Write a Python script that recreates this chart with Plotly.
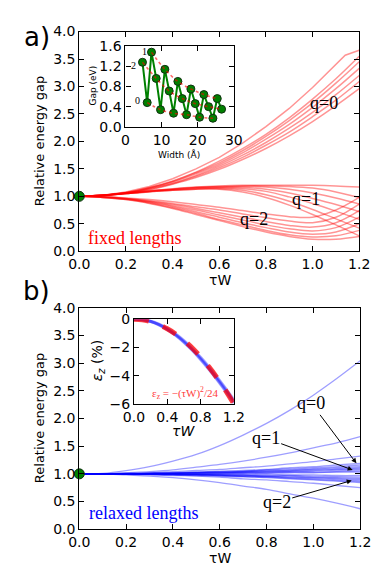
import plotly.graph_objects as go

W, H = 382, 573

# reduced strain tW, shared by the curves of both panels
tw = [0.0, 0.1, 0.2, 0.3, 0.4, 0.5, 0.6, 0.7, 0.8, 0.9, 1.0, 1.1, 1.2]

# a) fixed lengths, family q=0 (rising)
fixed_q0 = [
    [1, 1.01, 1.05, 1.12, 1.22, 1.34, 1.49, 1.67, 1.87, 2.10, 2.36, 2.65, 2.96],
    [1, 1.01, 1.06, 1.13, 1.23, 1.36, 1.52, 1.71, 1.93, 2.17, 2.45, 2.75, 3.09],
    [1, 1.02, 1.06, 1.14, 1.24, 1.38, 1.55, 1.75, 1.98, 2.24, 2.53, 2.85, 3.20],
    [1, 1.02, 1.06, 1.15, 1.26, 1.41, 1.58, 1.79, 2.04, 2.31, 2.62, 2.96, 3.33],
    [1, 1.02, 1.07, 1.15, 1.27, 1.43, 1.61, 1.83, 2.09, 2.38, 2.70, 3.06, 3.45],
    [1, 1.02, 1.07, 1.16, 1.28, 1.44, 1.64, 1.87, 2.13, 2.43, 2.77, 3.14, 3.55],
]
kink_tw = [0.0, 0.1, 0.2, 0.3, 0.4, 0.5, 0.6, 0.7, 0.8, 0.9, 1.0, 1.1, 1.14, 1.2]
kink_q0 = [1, 1.02, 1.08, 1.18, 1.32, 1.50, 1.71, 1.97, 2.27, 2.60, 2.98, 3.40, 3.57, 3.66]

# a) family q=1 (flat, then falling)
fixed_q1 = [
    [1, 1.02, 1.06, 1.10, 1.14, 1.17, 1.19, 1.20, 1.20, 1.20, 1.20, 1.19, 1.17],
    [1, 1.02, 1.06, 1.10, 1.13, 1.16, 1.18, 1.19, 1.19, 1.18, 1.15, 1.08, 0.98],
    [1, 1.02, 1.05, 1.09, 1.13, 1.16, 1.17, 1.18, 1.17, 1.13, 1.06, 0.97, 0.86],
    [1, 1.02, 1.05, 1.09, 1.12, 1.15, 1.16, 1.16, 1.13, 1.06, 0.96, 0.85, 0.72],
    [1, 1.02, 1.05, 1.09, 1.12, 1.14, 1.15, 1.14, 1.09, 0.99, 0.87, 0.73, 0.58],
    [1, 1.02, 1.05, 1.08, 1.11, 1.13, 1.14, 1.11, 1.03, 0.91, 0.76, 0.59, 0.42],
    [1, 1.02, 1.05, 1.08, 1.11, 1.13, 1.13, 1.08, 0.98, 0.84, 0.67, 0.48, 0.28],
]

# a) family q=2 (falling, then rising)
fixed_q2 = [
    [1, 0.99, 0.97, 0.94, 0.90, 0.85, 0.80, 0.74, 0.68, 0.63, 0.62, 0.75, 0.98],
    [1, 0.99, 0.96, 0.92, 0.87, 0.81, 0.75, 0.68, 0.61, 0.55, 0.52, 0.62, 0.86],
    [1, 0.99, 0.96, 0.91, 0.85, 0.78, 0.70, 0.62, 0.54, 0.47, 0.44, 0.52, 0.74],
    [1, 0.99, 0.95, 0.90, 0.83, 0.75, 0.66, 0.57, 0.48, 0.41, 0.37, 0.43, 0.62],
    [1, 0.98, 0.95, 0.89, 0.81, 0.72, 0.62, 0.52, 0.43, 0.35, 0.31, 0.35, 0.50],
    [1, 0.98, 0.94, 0.88, 0.79, 0.69, 0.58, 0.48, 0.38, 0.30, 0.26, 0.28, 0.38],
    [1, 0.98, 0.94, 0.87, 0.78, 0.67, 0.56, 0.45, 0.35, 0.27, 0.22, 0.22, 0.27],
]

# b) relaxed lengths
relaxed = [
    [1, 1.01, 1.06, 1.13, 1.23, 1.35, 1.51, 1.70, 1.91, 2.15, 2.42, 2.72, 3.04],
    [1, 1.00, 1.02, 1.04, 1.07, 1.12, 1.17, 1.23, 1.30, 1.38, 1.47, 1.56, 1.67],
    [1, 1.00, 1.01, 1.02, 1.04, 1.06, 1.08, 1.11, 1.14, 1.18, 1.22, 1.27, 1.32],
    [1, 1.00, 1.01, 1.01, 1.02, 1.03, 1.05, 1.06, 1.08, 1.11, 1.13, 1.16, 1.19],
    [1, 1.00, 1.00, 1.01, 1.02, 1.03, 1.04, 1.05, 1.07, 1.09, 1.11, 1.13, 1.16],
    [1, 1.00, 1.00, 1.01, 1.01, 1.02, 1.03, 1.04, 1.06, 1.07, 1.09, 1.11, 1.13],
    [1, 1.00, 1.00, 1.01, 1.01, 1.02, 1.03, 1.04, 1.05, 1.06, 1.08, 1.09, 1.11],
    [1, 1.00, 1.00, 1.01, 1.01, 1.02, 1.02, 1.03, 1.04, 1.05, 1.06, 1.08, 1.09],
    [1, 1.00, 1.00, 1.00, 1.01, 1.01, 1.02, 1.02, 1.03, 1.04, 1.05, 1.06, 1.07],
    [1, 1.00, 1.00, 1.00, 1.01, 1.01, 1.01, 1.02, 1.02, 1.03, 1.03, 1.04, 1.05],
    [1, 1.00, 1.00, 1.00, 1.00, 1.00, 1.01, 1.01, 1.01, 1.02, 1.02, 1.03, 1.03],
    [1, 1.00, 1.00, 1.00, 1.00, 0.99, 0.99, 0.99, 0.99, 0.98, 0.98, 0.97, 0.97],
    [1, 1.00, 1.00, 1.00, 0.99, 0.99, 0.98, 0.98, 0.97, 0.97, 0.96, 0.95, 0.94],
    [1, 1.00, 1.00, 0.99, 0.99, 0.99, 0.98, 0.97, 0.96, 0.96, 0.94, 0.93, 0.92],
    [1, 1.00, 1.00, 0.99, 0.99, 0.98, 0.98, 0.97, 0.96, 0.94, 0.93, 0.92, 0.90],
    [1, 1.00, 1.00, 0.99, 0.99, 0.98, 0.97, 0.96, 0.95, 0.93, 0.92, 0.90, 0.88],
    [1, 1.00, 1.00, 0.99, 0.98, 0.98, 0.97, 0.95, 0.94, 0.92, 0.90, 0.88, 0.86],
    [1, 1.00, 0.99, 0.99, 0.98, 0.97, 0.96, 0.95, 0.93, 0.91, 0.89, 0.87, 0.84],
    [1, 1.00, 0.99, 0.98, 0.97, 0.96, 0.94, 0.91, 0.89, 0.86, 0.83, 0.79, 0.75],
    [1, 1.00, 0.98, 0.96, 0.93, 0.89, 0.84, 0.78, 0.72, 0.64, 0.56, 0.47, 0.37],
]

# inset a): gap vs ribbon width
width_A = [4.7, 6.0, 7.2, 8.5, 9.7, 10.9, 12.1, 13.3, 14.5, 15.7,
           16.9, 18.1, 19.3, 20.5, 21.7, 23.0, 24.2, 25.4, 26.6]
gap_eV = [1.28, 0.48, 1.48, 0.96, 0.34, 1.14, 0.71, 0.27, 0.90, 0.56,
          0.24, 0.75, 0.46, 0.19, 0.64, 0.40, 0.17, 0.56, 0.35]
family_idx = {"2": [0, 3, 6, 9, 12, 15, 18], "0": [1, 4, 7, 10, 13, 16], "1": [2, 5, 8, 11, 14, 17]}

# inset b): strain
strain_blue = [
    [0, -0.03, -0.15, -0.38, -0.70, -1.10, -1.58, -2.14, -2.78, -3.47, -4.22, -5.00, -5.85],
    [0, -0.03, -0.14, -0.35, -0.66, -1.05, -1.52, -2.07, -2.70, -3.38, -4.12, -4.90, -5.72],
    [0, -0.04, -0.16, -0.40, -0.73, -1.14, -1.63, -2.20, -2.85, -3.55, -4.30, -5.10, -5.95],
]
strain_fit = [0, -0.04, -0.17, -0.38, -0.67, -1.04, -1.50, -2.04, -2.67, -3.38, -4.17, -5.04, -6.00]


def fx(p):
    return p / W


def fy(p):
    return 1 - p / H


fig = go.Figure()

red = "rgba(255,0,0,0.42)"
for ys in fixed_q0 + fixed_q1 + fixed_q2:
    fig.add_trace(go.Scatter(x=tw, y=ys, mode="lines", line=dict(color=red, width=1.5, shape="spline"),
                             xaxis="x", yaxis="y", showlegend=False, hoverinfo="skip"))
fig.add_trace(go.Scatter(x=kink_tw, y=kink_q0, mode="lines", line=dict(color=red, width=1.5),
                         xaxis="x", yaxis="y", showlegend=False, hoverinfo="skip"))
fig.add_trace(go.Scatter(x=[0], y=[1], mode="markers", cliponaxis=False,
                         marker=dict(color="green", size=10, line=dict(color="#103010", width=1)),
                         xaxis="x", yaxis="y", showlegend=False))

# inset a
fig.add_trace(go.Scatter(x=width_A, y=gap_eV, mode="lines+markers",
                         line=dict(color="green", width=2),
                         marker=dict(color="green", size=8, line=dict(color="#103010", width=1)),
                         xaxis="x2", yaxis="y2", showlegend=False))
for fam, idx in family_idx.items():
    fig.add_trace(go.Scatter(x=[width_A[i] for i in idx], y=[gap_eV[i] for i in idx], mode="lines",
                             line=dict(color="rgba(255,0,0,0.6)", width=1.6, dash="dot", shape="spline"),
                             xaxis="x2", yaxis="y2", showlegend=False))

blue = "rgba(0,0,255,0.38)"
for ys in relaxed:
    fig.add_trace(go.Scatter(x=tw, y=ys, mode="lines", line=dict(color=blue, width=1.3, shape="spline"),
                             xaxis="x3", yaxis="y3", showlegend=False, hoverinfo="skip"))
fig.add_trace(go.Scatter(x=[0], y=[1], mode="markers", cliponaxis=False,
                         marker=dict(color="green", size=10, line=dict(color="#103010", width=1)),
                         xaxis="x3", yaxis="y3", showlegend=False))

# inset b
for ys in strain_blue:
    fig.add_trace(go.Scatter(x=tw, y=ys, mode="lines", line=dict(color="rgba(0,0,255,0.35)", width=3, shape="spline"),
                             xaxis="x4", yaxis="y4", showlegend=False))
fig.add_trace(go.Scatter(x=tw, y=strain_fit, mode="lines",
                         line=dict(color="rgba(255,0,0,0.75)", width=5, dash="dash", shape="spline"),
                         xaxis="x4", yaxis="y4", showlegend=False))

tickfont = dict(family="DejaVu Sans", size=14, color="black")
common = dict(ticks="inside", ticklen=5, tickwidth=1, tickcolor="black", showline=True, linecolor="black",
              linewidth=1.2, mirror="ticks", showgrid=False, zeroline=False, tickfont=tickfont)

tw_ticks = [0.0, 0.2, 0.4, 0.6, 0.8, 1.0, 1.2]
gap_ticks = [0.0, 0.5, 1.0, 1.5, 2.0, 2.5, 3.0, 3.5, 4.0]

fig.update_layout(
    width=W, height=H, margin=dict(l=0, r=0, t=0, b=0),
    paper_bgcolor="white", plot_bgcolor="white",
    xaxis=dict(domain=[fx(64), fx(361)], anchor="y", range=[0, 1.2], tickmode="array",
               tickvals=tw_ticks, ticktext=["%.1f" % v for v in tw_ticks], **common),
    yaxis=dict(domain=[fy(242), fy(16)], anchor="x", range=[0, 4], tickmode="array",
               tickvals=gap_ticks, ticktext=["%.1f" % v for v in gap_ticks], **common),
    xaxis2=dict(domain=[fx(113), fx(228)], anchor="y2", range=[0, 30], tickmode="array",
                tickvals=[0, 10, 20, 30], ticktext=["0", "10", "20", "30"], **common),
    yaxis2=dict(domain=[fy(114), fy(31)], anchor="x2", range=[0, 1.6], tickmode="array",
                tickvals=[0, 0.4, 0.8, 1.2, 1.6], ticktext=["0.0", "0.4", "0.8", "1.2", "1.6"], **common),
    xaxis3=dict(domain=[fx(64), fx(362)], anchor="y3", range=[0, 1.2], tickmode="array",
                tickvals=tw_ticks, ticktext=["%.1f" % v for v in tw_ticks], **common),
    yaxis3=dict(domain=[fy(528), fy(300)], anchor="x3", range=[0, 4], tickmode="array",
                tickvals=gap_ticks, ticktext=["%.1f" % v for v in gap_ticks], **common),
    xaxis4=dict(domain=[fx(122), fx(228)], anchor="y4", range=[0, 1.2], tickmode="array",
                tickvals=[0, 0.4, 0.8, 1.2], ticktext=["0.0", "0.4", "0.8", "1.2"], **common),
    yaxis4=dict(domain=[fy(399), fy(312)], anchor="x4", range=[-6, 0], tickmode="array",
                tickvals=[0, -2, -4, -6], ticktext=["0", "\u22122", "\u22124", "\u22126"], **common),
)

sans = "DejaVu Sans"
serif = "Liberation Serif"


def note(text, x, y, size, family=sans, color="black", angle=0):
    fig.add_annotation(text=text, x=fx(x), y=fy(y), xref="paper", yref="paper", showarrow=False,
                       textangle=angle, xanchor="center", yanchor="middle",
                       font=dict(family=family, size=size, color=color))


note("a)", 19, 22, 26)
note("b)", 19, 283, 26)
note("Relative energy gap", 22, 129, 13, angle=-90)
note("Relative energy gap", 22, 414, 13, angle=-90)
note("\u03c4W", 213, 272, 14)
note("\u03c4W", 213, 558, 14)
note("Gap (eV)", 78, 72, 9, angle=-90)
note("Width (\u00c5)", 170, 142, 9)
note("2", 121, 51, 10, family=serif)
note("0", 126, 87, 10, family=serif)
note("1", 133, 37, 10, family=serif)
note("<i>\u03b5<sub>z</sub></i> (%)", 84, 355, 14, angle=-90)
note("<i>\u03c4W</i>", 175, 427, 14)
note("\u03b5<sub>z</sub> = \u2212(\u03c4W)<sup>2</sup>/24", 176, 388, 11, family=serif, color="#ff3b3b")
note("q=0", 324, 90, 18, family=serif)
note("q=1", 305, 188, 18, family=serif)
note("q=2", 249, 209, 18, family=serif)
note("fixed lengths", 123, 228, 18, family=serif, color="red")
note("relaxed lengths", 132, 511, 18, family=serif, color="blue")

# arrows in panel b: (label, tip tW, tip gap, dx, dy)
arrow_labels = ["q=0", "q=1", "q=2"]
arrow_tip_tw = [1.184, 1.168, 1.164]
arrow_tip_gap = [1.19, 1.07, 0.88]
arrow_dx = [-45, -87, -75]
arrow_dy = [-60, -32, 22]
for lab, xt, yt, dx, dy in zip(arrow_labels, arrow_tip_tw, arrow_tip_gap, arrow_dx, arrow_dy):
    fig.add_annotation(text=lab, x=xt, y=yt, xref="x3", yref="y3", ax=dx, ay=dy,
                       showarrow=True, arrowhead=2, arrowsize=1, arrowwidth=1, arrowcolor="black",
                       font=dict(family=serif, size=18, color="black"))

fig.write_html("out.html")
